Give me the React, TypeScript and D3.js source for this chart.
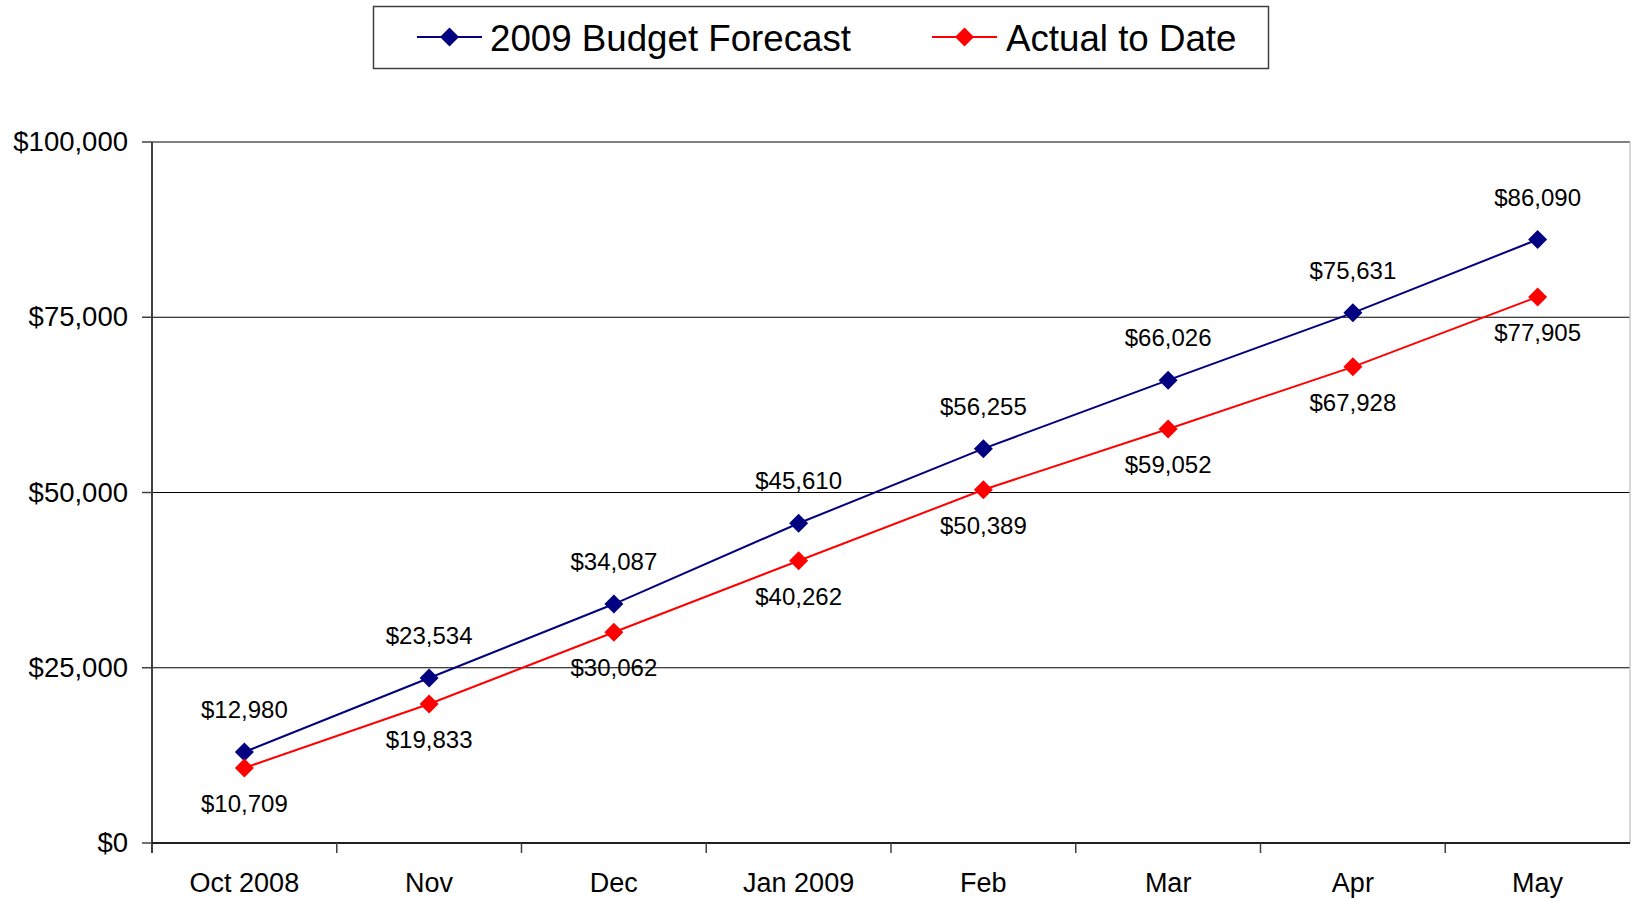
import React from "react";
import * as d3 from "d3";

const categories = ["Oct 2008", "Nov", "Dec", "Jan 2009", "Feb", "Mar", "Apr", "May"];
const budgetForecast = [12980, 23534, 34087, 45610, 56255, 66026, 75631, 86090];
const actualToDate = [10709, 19833, 30062, 40262, 50389, 59052, 67928, 77905];
const yTicks = [0, 25000, 50000, 75000, 100000];
const seriesNames = ["2009 Budget Forecast", "Actual to Date"];
const seriesColors = ["#000080", "#FF0000"];

const W = 1631;
const H = 899;
const left = 152;
const right = 1630;
const top = 142;
const bottom = 843;
const FONT = "'Liberation Sans', Arial, sans-serif";

const fmt = (v: number) => "$" + d3.format(",")(v);

function Diamond({ x, y, r, fill }: { x: number; y: number; r: number; fill: string }) {
  const p = `M${x},${y - r}L${x + r},${y}L${x},${y + r}L${x - r},${y}Z`;
  return <path d={p} fill={fill} />;
}

export default function App() {
  const x = d3.scaleBand<string>().domain(categories).range([left, right]).padding(0);
  const y = d3.scaleLinear().domain([0, 100000]).range([bottom, top]);
  const cx = (c: string) => (x(c) as number) + x.bandwidth() / 2;
  const line = d3
    .line<number>()
    .x((_, i) => cx(categories[i]))
    .y((d) => y(d));

  const series = [budgetForecast, actualToDate];
  const boundaries = categories.map((c) => x(c) as number).concat([right]);

  return (
    <svg
      width={W}
      height={H}
      style={{ position: "absolute", left: 0, top: 0, background: "#fff" }}
      fontFamily={FONT}
    >
      <rect x={0} y={0} width={W} height={H} fill="#fff" />
      {/* legend */}
      <rect x={373.5} y={6.5} width={895} height={62} fill="#fff" stroke="#404040" strokeWidth={1.5} />
      {seriesNames.map((n, i) => {
        const lx = i === 0 ? 417 : 932;
        const tx = i === 0 ? 490 : 1006;
        return (
          <g key={n}>
            <line x1={lx} x2={lx + 65} y1={37} y2={37} stroke={seriesColors[i]} strokeWidth={2} />
            <Diamond x={lx + 32.5} y={37} r={9.5} fill={seriesColors[i]} />
            <text x={tx} y={51} fontSize={36.7} fill="#000">
              {n}
            </text>
          </g>
        );
      })}

      {/* gridlines */}
      {yTicks
        .filter((t) => t > 0)
        .map((t) => (
          <line
            key={t}
            x1={left}
            x2={right}
            y1={y(t)}
            y2={y(t)}
            stroke={t === 100000 ? "#808080" : "#000"}
            strokeWidth={t === 100000 ? 2 : 1}
          />
        ))}
      <line x1={right} x2={right} y1={top} y2={bottom} stroke="#c8c8c8" strokeWidth={1.5} />

      {/* y axis */}
      <line x1={left} x2={left} y1={top} y2={bottom + 10} stroke="#404040" strokeWidth={2} />
      {yTicks.map((t) => (
        <g key={t}>
          <line x1={left - 10} x2={left} y1={y(t)} y2={y(t)} stroke="#404040" strokeWidth={1.5} />
          <text x={128} y={y(t) + 9} textAnchor="end" fontSize={27.5} fill="#000">
            {fmt(t)}
          </text>
        </g>
      ))}

      {/* x axis */}
      <line x1={left} x2={right} y1={bottom} y2={bottom} stroke="#202020" strokeWidth={2} />
      {boundaries.slice(1, -1).map((b, i) => (
        <line key={i} x1={b} x2={b} y1={bottom} y2={bottom + 10} stroke="#404040" strokeWidth={1.5} />
      ))}
      {categories.map((c) => (
        <text key={c} x={cx(c)} y={892} textAnchor="middle" fontSize={27} fill="#000">
          {c}
        </text>
      ))}

      {/* series */}
      {series.map((s, si) => (
        <g key={si}>
          <path d={line(s) || ""} fill="none" stroke={seriesColors[si]} strokeWidth={2} />
          {s.map((v, i) => (
            <Diamond key={i} x={cx(categories[i])} y={y(v)} r={9.5} fill={seriesColors[si]} />
          ))}
          {s.map((v, i) => (
            <text
              key={"t" + i}
              x={cx(categories[i])}
              y={si === 0 ? y(v) - 34 : y(v) + 44}
              textAnchor="middle"
              fontSize={24}
              fill="#000"
            >
              {fmt(v)}
            </text>
          ))}
        </g>
      ))}
    </svg>
  );
}
